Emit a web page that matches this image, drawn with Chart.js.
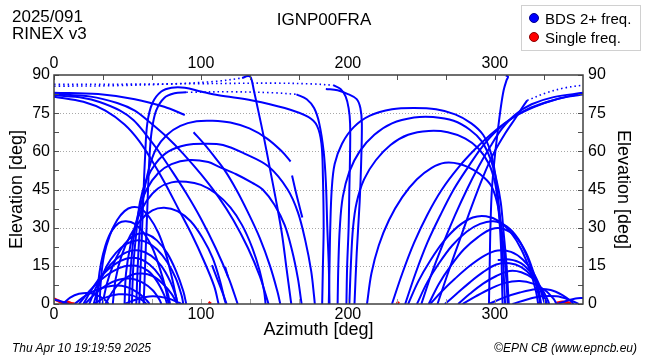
<!DOCTYPE html>
<html>
<head>
<meta charset="utf-8">
<script src="https://cdn.jsdelivr.net/npm/chart.js@4"></script>
<style>
  html,body{margin:0;padding:0;background:#fff;}
  #wrap{position:relative;width:650px;height:360px;font-family:'Liberation Sans',Arial,Helvetica,sans-serif;color:#000;}
  canvas{position:absolute;left:0;top:0;}
  .t{position:absolute;white-space:nowrap;pointer-events:none;}
  #hdrL{left:12px;top:8px;font-size:17px;line-height:17px;}
  #title{left:0;width:648px;text-align:center;top:10px;font-size:17px;line-height:20px;}
  #legend{position:absolute;left:521px;top:5px;width:118px;height:44px;border:1px solid #d0d0d0;background:#fff;}
  .li{position:absolute;left:7px;font-size:15px;line-height:18px;}
  .dot{display:inline-block;width:9px;height:9px;border-radius:50%;margin-right:6px;vertical-align:1px;}
  #footL{left:12px;top:341px;font-size:12px;font-style:italic;}
  #footR{right:13px;top:341px;font-size:12px;font-style:italic;}
</style>
</head>
<body>
<div id="wrap">
  <canvas id="c" width="650" height="360"></canvas>
  <div class="t" id="hdrL">2025/091<br>RINEX v3</div>
  <div class="t" id="title">IGNP00FRA</div>
  <div id="legend">
    <div class="li" style="top:4px"><span class="dot" style="background:#0000ff;border:1px solid #00008b;width:8px;height:8px"></span>BDS 2+ freq.</div>
    <div class="li" style="top:23px"><span class="dot" style="background:#ff0000;border:1px solid #8b0000;width:8px;height:8px"></span>Single freq.</div>
  </div>
  <div class="t" id="footL">Thu Apr 10 19:19:59 2025</div>
  <div class="t" id="footR">©EPN CB (www.epncb.eu)</div>
</div>
<script>
// ---------- axis ticks ----------
const xTickValues = [0, 100/3, 200/3, 100, 400/3, 500/3, 200, 700/3, 800/3, 300, 1000/3];
const xLabelValues = [0, 100, 200, 300];
const yTickValues = [0, 7.5, 15, 22.5, 30, 37.5, 45, 52.5, 60, 67.5, 75, 82.5, 90];
const yLabelValues = [0, 15, 30, 45, 60, 75, 90];
const yGridValues = [15, 30, 45, 60, 75];

// ---------- tracks: flat [azimuth, elevation, ...] pairs ----------
// near-zenith passes, sparse (dotted) portions
const dottedTracks = [
  [0,86.3, 50,86.4, 100,86.6, 150,86.8, 175,86.5, 190,86],
  [0,85.6, 40,85.8, 80,86.5, 110,87.5, 128,88.8],
  [90,83.2, 120,83.4, 150,83, 165,82.4],
  [322,80, 335,83, 348,85, 360,86]
];
// descending from the north-west high sky
const descendingTracks = [
  [0,83, 30,82.5, 55,80.5, 75,77.5, 89,74.3],
  [0,82.5, 25,81.5, 43,79, 55,76, 65,71.5, 77,65.5, 88,59, 100,51, 112,42, 122,33, 132,22, 140,11, 146,0],
  [0,82, 20,81, 31,79.4, 45,76, 54,72.3, 62,67, 70,61, 80,52.5, 90,43.5, 100,33.5, 110,22, 119,10, 125,0],
  [0,81.5, 20,79.5, 35,76, 48,70.5, 58,64, 67,56, 76,47, 85,37, 94,27, 102,17, 109,7, 112,0],
  [95,67.5, 102,63, 109,58, 116,52.7, 124,45, 132,36, 140,26, 147,15, 152,5, 154,0]
];
// high passes rising in the east
const tallArcs = [
  [61,0, 62,15, 63,30, 64,45, 65,58, 66.5,68, 69.5,76, 75,81, 82,82.8, 90,83.2],
  [165,82.4, 172,80.5, 177,77, 180.5,71, 183.5,60, 185,48, 186,30, 187,15, 187.5,0],
  [58,0, 59,15, 60,30, 61,45, 62,58, 63.5,71, 67,79, 73,83.5, 80,85, 89,85, 100,83.5, 112,82, 135,80, 157,77, 173,73.5, 179,70, 182,63, 183,50, 183.5,30, 183,15, 182.5,0],
  [56,0, 57,15, 58.5,30, 61,43, 64.5,53, 69.5,61, 77,66.5, 86,70, 97,71.8, 108,72, 120,71.3, 133,69, 145,65, 155,60, 161,56],
  [53,0, 54,15, 56,28, 58.5,40, 63,49, 69.5,55.5, 78,60, 90,62.5, 102,63, 115,62.5, 130,59, 146,54, 159,45, 166,36, 171,25, 175,13, 177,3, 177.5,0],
  [51,0, 52,12, 54,25, 57.5,36, 63,45, 71,51.5, 80,55, 92,56.6, 105,55.8, 112,54, 124,51, 135,47.6, 142,45, 150,39, 157,31, 162,21, 166,10, 168,2, 168.5,0],
  [48,0, 49,12, 52,23, 56.5,33, 63,40.5, 71,45.5, 80,47.8, 90,48, 100,46.8, 110,43.5, 120,38, 128,31, 135,22, 140,13, 143,5, 144,0]
];
// lower passes in the east / north-east
const lowArcsLeft = [
  [40,0, 42,10, 46,19, 52,27, 59,33, 67,36.8, 75,37.8, 84,36.5, 93,32.5, 101,26, 108,18, 113,9, 116,2, 117,0],
  [31,0, 32,10, 34,19, 38,27, 43,33, 48,36.5, 53,38, 59,37.5, 65,34, 71,28, 76,20, 80,11, 83,3, 84,0],
  [29,0, 30,8, 32,16, 35,23, 39,28.5, 44,31.8, 49,32.5, 55,31.5, 61,28, 67,22, 72,14, 76,6, 78,0],
  [33,0, 36,8, 40,15, 45,21, 51,25.5, 57,27.5, 63,27.5, 70,25, 77,20, 83,13, 88,5, 90,0],
  [27,0, 31,8, 36,15, 42,20, 49,23.5, 56,25, 63,24.3, 70,21.5, 77,16.5, 83,10, 87,3, 88,0],
  [24,0, 29,7, 35,13, 42,17.5, 50,20.5, 58,21, 66,19, 73,15, 79,9, 83,3, 84,0],
  [20,0, 26,6, 33,11.5, 41,15.5, 49,17.8, 57,18, 65,15.5, 72,11, 77,5, 79,0],
  [17,0, 24,5, 32,9.5, 40,12.8, 48,14.8, 56,15, 64,13, 70,9, 75,3.5, 77,0],
  [35,0, 40,5, 46,9, 53,11.5, 60,12, 67,11, 74,8, 80,4, 84,0],
  [21,0, 28,4, 36,7.5, 44,9.5, 52,10, 60,8.5, 67,5.5, 72,1.5, 73,0],
  [14,0, 22,3.5, 31,6, 40,7.2, 49,6.8, 57,4.5, 63,1.5, 65,0],
  [6,0, 11,2.5, 17,4, 24,4.3, 31,3, 36,1, 37,0],
  [27,0, 35,2.5, 44,3.8, 53,3.4, 60,1.5, 63,0],
  [48,0, 57,2, 67,3, 77,2.3, 85,0.5, 87,0]
];
// passes in the west
const rightArcs = [
  [187,0, 187.5,15, 188,30, 189,45, 191,55, 196,63, 204,69.5, 215,74, 230,76.5, 245,77, 260,76.5, 273,74.5, 284,71, 292,66.5, 297,60, 300,52, 302,43, 304,31, 305.5,18, 306.5,6, 307,0],
  [193,0, 193.5,15, 194.5,30, 196.5,42, 201,52, 208,60, 218,66.5, 230,71, 245,73.3, 258,73.5, 272,72, 283,68.5, 291,64, 297,57, 301,49, 304,40, 306,28, 308,15, 309,5, 309.5,0],
  [201,0, 202,15, 203.5,30, 206,40, 211,49, 219,56.5, 229,62.5, 241,66.5, 255,68, 268,67.5, 280,65, 289,61, 296,55, 300,48, 302,40, 303.5,30, 304.5,18, 305,6, 305.3,0],
  [213,0, 216,12, 221,23, 228,33, 237,42, 247,49, 257,53.5, 266,55.5, 276,55, 286,52.5, 293,49.5, 298,46, 301.5,40, 304,32, 306,22, 307.5,12, 308.5,3, 308.7,0],
  [241,0, 248,9, 256,17, 265,24.5, 275,30.5, 285,34, 294,34.5, 303,32.5, 311,28, 318,21.5, 324,13, 328,5, 329.5,0],
  [247,0, 254,8.5, 262,16, 271,23, 281,28.5, 290,31.5, 299,32.5, 308,30.5, 316,25.5, 322,18.5, 327,10, 330,3, 331,0],
  [255,0, 262,8, 270,15, 279,21.5, 289,26.5, 298,29.5, 306,29.5, 314,26.5, 321,20.5, 326,13, 330,5, 331.5,0],
  [256,0, 264,5, 273,10, 283,15, 293,19, 302,21, 311,20.5, 319,17.5, 326,12.5, 331,6.5, 334,1, 334.5,0],
  [302,17.3, 310,17.5, 318,16, 325,12, 330,7, 333,2, 334,0],
  [266,0, 274,4, 283,8.5, 292,12.5, 301,15.5, 310,16, 318,14.5, 325,11, 331,6, 335,1, 335.5,0],
  [275,0, 283,4, 292,8, 301,11, 310,13, 318,12.5, 326,10, 332,6, 336,1.5, 337,0],
  [278,0, 287,3, 297,6, 307,8.3, 317,9, 326,8, 334,5.5, 340,2, 342,0],
  [296,0, 306,2.5, 317,4.5, 328,5.8, 338,5.5, 346,3.5, 352,1, 353.5,0],
  [312,0, 322,1.8, 332,3, 342,3, 350,1.8, 356,0.3, 357,0],
  [342,0, 349,1.3, 355,2.2, 360,2.4]
];
// rising towards the north-west high sky
const risingTracks = [
  [230,0, 237,12, 245,24, 254,35, 264,45, 275,53.5, 286,60.5, 297,66.5, 309,72, 322,76.5, 336,79.5, 350,81.5, 360,82.3],
  [239,0, 246,12, 254,24, 263,35, 272,45, 282,54, 291,61.5, 301,68, 313,73.5, 327,77.5, 342,80.5, 360,82.8],
  [250,0, 257,12, 265,24, 273,35, 281,45, 289,54, 297,62, 305,69, 314,74.5, 325,78.5, 340,81.3, 360,83],
  [261,0, 268,12, 276,25, 284,38, 292,50, 299,59, 307,67, 314,73, 319,77.5, 322,80]
];
// near-vertical passes through the zenith area
const steepTracks = [
  [128,88.8, 132,89.6, 134,89, 136,84, 139,76, 143,65, 147,53, 151,41, 155,28, 158,15, 161,2, 161.5,0],
  [296,0, 296.5,15, 297,30, 298,45, 300,58, 302,68, 304,77, 306,84, 308,88, 309,89.3, 307.5,89.8],
  [190,86, 195,84.5, 198.5,81.5, 200.5,77, 201.5,71, 201.5,60, 201,45, 200.5,30, 199.5,15, 199,0],
  [185,84.5, 193,84, 200,82.5, 206,80.5, 208.5,77, 209.5,71, 209,55, 208,40, 206,20, 204.5,0]
];
const shortSegments = [
  [162,50.5, 165,43, 169,34],
  [116.5,14.5, 118.5,10.5],
  [107.5,15.3, 111,10, 115,4, 117.5,0],
  [0,1.8, 4,1.2, 8,0.4, 10,0]
];
// single-frequency observations
const singleFreqTracks = [
  [0,2, 3,1.2, 6,0.4, 9,0.8, 12,0.2, 14,0],
  [105.5,0, 106.5,0.8],
  [233.5,0, 234.5,1],
  [330,0, 331,0.7],
  [342,0.3, 346,0.8, 350,0.5, 352,0]
];

// ---------- build ----------
function pairs(a){ const o=[]; for(let i=0;i<a.length;i+=2) o.push({x:a[i], y:a[i+1]}); return o; }
const BLUE = '#0000ff', RED = '#ff0000';
const datasets = [];
const solid = [].concat(descendingTracks, tallArcs, lowArcsLeft, rightArcs, risingTracks, steepTracks, shortSegments);
solid.forEach((t,i)=>datasets.push({label:'BDS 2+ freq.', data:pairs(t), showLine:true, borderColor:BLUE, backgroundColor:BLUE, borderWidth:2, pointRadius:0, tension:0.35, xAxisID:'x', yAxisID:'y'}));
dottedTracks.forEach(t=>datasets.push({label:'BDS 2+ freq.', data:pairs(t), showLine:true, borderColor:BLUE, borderWidth:1.6, borderDash:[1.5,3], pointRadius:0, tension:0.35, xAxisID:'x', yAxisID:'y'}));
singleFreqTracks.forEach(t=>datasets.push({label:'Single freq.', data:pairs(t), showLine:true, borderColor:RED, backgroundColor:RED, borderWidth:3, pointRadius:0, tension:0.3, xAxisID:'x', yAxisID:'y'}));

const near = (v, list) => list.some(l => Math.abs(v - l) < 0.01);
const FONT = "'Liberation Sans', Arial, Helvetica, sans-serif";
Chart.defaults.font.family = FONT;
Chart.defaults.color = '#000';

const frame = {
  id:'frame',
  beforeDatasetsDraw(chart){
    const {ctx, chartArea:a} = chart; const y = chart.scales.y;
    ctx.save(); ctx.strokeStyle='#a8a8a8'; ctx.lineWidth=1; ctx.setLineDash([1,2]);
    yGridValues.forEach(v=>{ const p=Math.round(y.getPixelForValue(v))+0.5; ctx.beginPath(); ctx.moveTo(a.left,p); ctx.lineTo(a.right,p); ctx.stroke(); });
    ctx.restore();
  },
  afterDatasetsDraw(chart){
    const {ctx, chartArea:a} = chart; const x = chart.scales.x, y = chart.scales.y;
    ctx.save();
    const L=5;
    ctx.lineWidth=1;
    xTickValues.forEach(v=>{ const p=Math.round(x.getPixelForValue(v))+0.5;
      ctx.strokeStyle='#a0a0a0'; ctx.beginPath(); ctx.moveTo(p,a.bottom); ctx.lineTo(p,a.bottom-L); ctx.stroke();
      ctx.strokeStyle='#505050'; ctx.beginPath(); ctx.moveTo(p,a.top); ctx.lineTo(p,a.top+L); ctx.stroke(); });
    yTickValues.forEach(v=>{ const p=Math.round(y.getPixelForValue(v))+0.5;
      ctx.strokeStyle='#505050'; ctx.beginPath(); ctx.moveTo(a.left,p); ctx.lineTo(a.left+L,p); ctx.stroke();
      ctx.beginPath(); ctx.moveTo(a.right,p); ctx.lineTo(a.right-L,p); ctx.stroke(); });
    ctx.strokeStyle='#404040'; ctx.lineWidth=1.5;
    ctx.strokeRect(a.left, a.top, a.right-a.left, a.bottom-a.top);
    ctx.restore();
  }
};

const xTicks = s => { s.ticks = xTickValues.map(v=>({value:v})); };
const yTicks = s => { s.ticks = yTickValues.map(v=>({value:v})); };
const xLab = v => near(v, xLabelValues) ? String(Math.round(v)) : '';
const yLab = v => near(v, yLabelValues) ? String(Math.round(v)) : '';
const tickFont = {size:16, family:FONT};
const titleFont = {size:18, family:FONT};

new Chart(document.getElementById('c'), {
  type:'scatter',
  data:{datasets},
  options:{
    responsive:false, animation:false, devicePixelRatio:1,
    layout:{padding:0},
    plugins:{legend:{display:false}, tooltip:{enabled:false}, title:{display:false}},
    scales:{
      x:{type:'linear', position:'bottom', min:0, max:360, afterBuildTicks:xTicks,
         ticks:{callback:xLab, font:tickFont, color:'#000', padding:1, autoSkip:false, maxRotation:0},
         grid:{display:false, drawTicks:false}, border:{display:false},
         title:{display:true, text:'Azimuth [deg]', font:titleFont, color:'#000', padding:{top:0,bottom:19}},
         afterFit:s=>{s.height=56;}},
      x2:{type:'linear', position:'top', min:0, max:360, afterBuildTicks:xTicks,
         ticks:{callback:xLab, font:tickFont, color:'#000', padding:2, autoSkip:false, maxRotation:0},
         grid:{display:false, drawTicks:false}, border:{display:false},
         afterFit:s=>{s.height=75;}},
      y:{type:'linear', position:'left', min:0, max:90, afterBuildTicks:yTicks,
         ticks:{callback:yLab, font:tickFont, color:'#000', padding:4, autoSkip:false},
         grid:{display:false, drawTicks:false}, border:{display:false},
         title:{display:true, text:'Elevation [deg]', font:titleFont, color:'#000', padding:{top:6,bottom:0}},
         afterFit:s=>{s.width=54;}},
      y2:{type:'linear', position:'right', min:0, max:90, afterBuildTicks:yTicks,
         ticks:{callback:yLab, font:tickFont, color:'#000', padding:5, autoSkip:false},
         grid:{display:false, drawTicks:false}, border:{display:false},
         title:{display:true, text:'Elevation [deg]', font:titleFont, color:'#000', padding:{top:16,bottom:0}},
         afterFit:s=>{s.width=67;}}
    }
  },
  plugins:[frame]
});
</script>
</body>
</html>
